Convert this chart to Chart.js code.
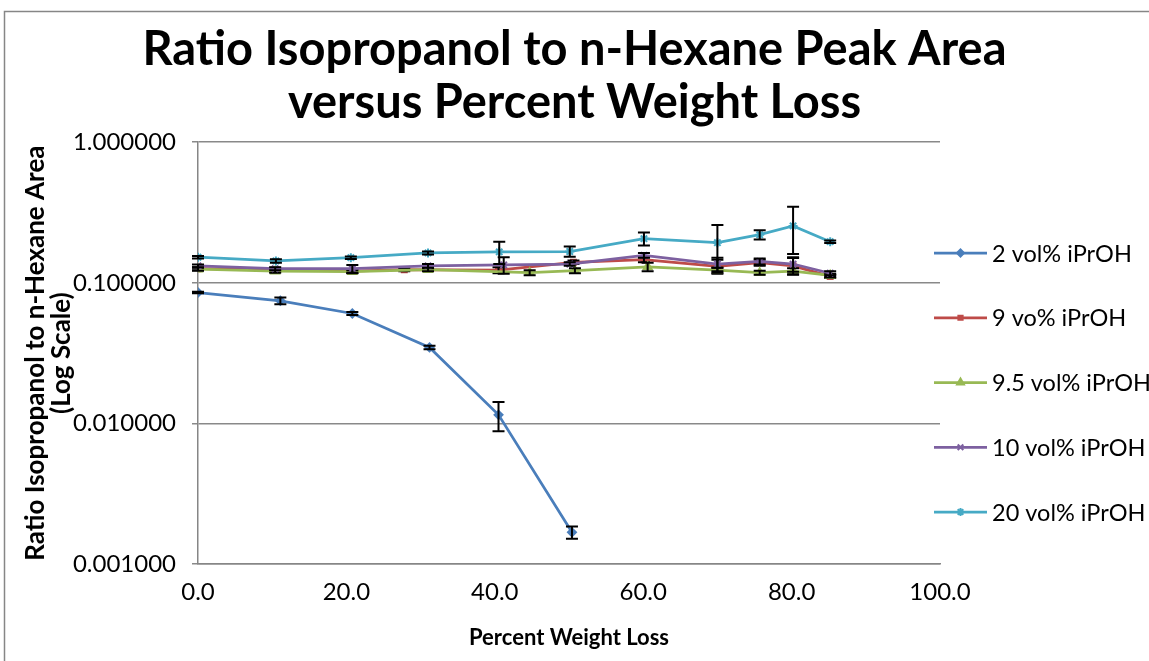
<!DOCTYPE html>
<html><head><meta charset="utf-8">
<script src="https://cdn.jsdelivr.net/npm/chart.js@4/dist/chart.umd.min.js"></script>
<style>html,body{margin:0;padding:0;background:#fff;overflow:hidden}</style>
</head><body>
<canvas id="c" width="1149" height="661"></canvas>
<script>
// ---- data ----
const seriesNames = ['2 vol% iPrOH', '9 vo% iPrOH', '9.5 vol% iPrOH', '10 vol% iPrOH', '20 vol% iPrOH'];

const x2 = [0, 11.1, 20.8, 31.2, 40.5, 50.4];
const y2 = [0.0853, 0.0745, 0.0605, 0.0347, 0.0115, 0.00168];
const e2 = [0.001, 0.004, 0.0015, 0.001, 0.0027, 0.00017];

const x9 = [0, 10.4, 20.8, 27.8, 40.5, 50.6, 60.1, 70, 75.7, 80.2, 85.2];
const y9 = [0.126, 0.124, 0.121, 0.124, 0.123, 0.140, 0.146, 0.131, 0.139, 0.132, 0.111];
const e9 = [0.003, 0.004, 0.003, 0.003, 0.006, 0.004, 0.006, 0.015, 0.007, 0.018, 0.003];

const x95 = [0, 10.4, 20.8, 31, 44.7, 50.8, 60.6, 70, 75.7, 80.2, 85.2];
const y95 = [0.125, 0.121, 0.120, 0.124, 0.118, 0.122, 0.130, 0.123, 0.118, 0.121, 0.113];
const e95 = [0.003, 0.003, 0.003, 0.003, 0.005, 0.005, 0.009, 0.005, 0.004, 0.006, 0.003];

const x10 = [0, 10.4, 20.8, 31, 41.2, 50.1, 60.1, 70, 75.7, 80.2, 85.2];
const y10 = [0.132, 0.126, 0.126, 0.132, 0.134, 0.136, 0.157, 0.136, 0.142, 0.136, 0.117];
const e10 = [0.003, 0.003, 0.008, 0.004, 0.018, 0.004, 0.006, 0.015, 0.007, 0.016, 0.004];

const x20 = [0, 10.5, 20.6, 31, 40.6, 50.1, 60.1, 70, 75.7, 80.2, 85.2];
const y20 = [0.152, 0.143, 0.151, 0.163, 0.166, 0.167, 0.206, 0.193, 0.220, 0.254, 0.196];
const e20 = [0.003, 0.004, 0.003, 0.004, 0.030, 0.014, 0.022, 0.065, 0.017, 0.094, 0.004];

const yTickValues = [1, 0.1, 0.01, 0.001];
const xTickValues = [0, 20, 40, 60, 80, 100];

const titleLines = ['Ratio Isopropanol to n-Hexane Peak Area', 'versus Percent Weight Loss'];
const yTitleLines = ['Ratio Isopropanol to n-Hexane Area', '(Log Scale)'];
const xTitle = 'Percent Weight Loss';

// ---- styling ----
const colors = ['#4A7EBB', '#BE4B48', '#98B954', '#7D60A0', '#46AAC5'];
const markers = ['rectRot', 'rect', 'triangle', 'crossRot', 'star'];
const markerRadius = [4, 3.5, 4.5, 4.5, 4.5];
const FONT = 'Lato, "Open Sans", sans-serif';

const xs = [x2, x9, x95, x10, x20];
const ys = [y2, y9, y95, y10, y20];
const es = [e2, e9, e95, e10, e20];

const datasets = seriesNames.map((name, i) => ({
  label: name,
  data: xs[i].map((xv, j) => ({x: xv, y: ys[i][j]})),
  errs: es[i],
  borderColor: colors[i],
  backgroundColor: colors[i],
  pointBackgroundColor: colors[i],
  pointBorderColor: colors[i],
  pointStyle: markers[i],
  pointRadius: markerRadius[i],
  pointBorderWidth: 2,
  borderWidth: 2.75,
  tension: 0,
  order: 5 - i
}));

const bgPlugin = {
  id: 'bg',
  beforeDraw(chart) {
    const ctx = chart.ctx;
    ctx.save();
    ctx.fillStyle = '#fff';
    ctx.fillRect(0, 0, chart.width, chart.height);
    ctx.strokeStyle = '#868686';
    ctx.lineWidth = 1.5;
    ctx.strokeRect(4.5, 11.5, 1300, 800);
    ctx.restore();
  }
};

const errPlugin = {
  id: 'errbars',
  afterDatasetDraw(chart, args) {
    const ds = chart.data.datasets[args.index];
    const xS = chart.scales.x, yS = chart.scales.y;
    const ctx = chart.ctx;
    ctx.save();
    ctx.strokeStyle = '#000';
    ctx.lineWidth = 2;
    ds.data.forEach((p, j) => {
      const e = ds.errs[j];
      const px = xS.getPixelForValue(p.x);
      const yt = yS.getPixelForValue(p.y + e);
      const yb = yS.getPixelForValue(p.y - e);
      ctx.beginPath();
      ctx.moveTo(px, yt); ctx.lineTo(px, yb);
      ctx.moveTo(px - 6, yt); ctx.lineTo(px + 6, yt);
      ctx.moveTo(px - 6, yb); ctx.lineTo(px + 6, yb);
      ctx.stroke();
    });
    ctx.restore();
  }
};

const legendPlugin = {
  id: 'xlLegend',
  afterDraw(chart) {
    const ctx = chart.ctx;
    const left = chart.chartArea.right - 6;
    const top = 253, step = 64.75;
    ctx.save();
    chart.data.datasets.forEach((ds, i) => {
      const y = top + i * step;
      ctx.strokeStyle = ds.borderColor;
      ctx.lineWidth = ds.borderWidth;
      ctx.beginPath();
      ctx.moveTo(left, y); ctx.lineTo(left + 53, y);
      ctx.stroke();
      ctx.fillStyle = ds.pointBackgroundColor;
      ctx.strokeStyle = ds.pointBorderColor;
      ctx.lineWidth = 2;
      Chart.helpers.drawPoint(ctx, {pointStyle: ds.pointStyle, radius: ds.pointRadius - 0.5, borderWidth: 2, rotation: 0}, left + 26.5, y);
      ctx.fillStyle = '#000';
      ctx.font = '23.5px ' + FONT;
      ctx.textBaseline = 'middle';
      ctx.textAlign = 'left';
      ctx.fillText(ds.label, left + 58, y + 1);
    });
    ctx.restore();
  }
};

new Chart(document.getElementById('c'), {
  type: 'line',
  data: {datasets},
  plugins: [bgPlugin, errPlugin, legendPlugin],
  options: {
    responsive: false,
    animation: false,
    layout: {padding: {top: 0, left: 0, right: 0, bottom: 0}},
    plugins: {
      legend: {display: false},
      tooltip: {enabled: false},
      title: {
        display: true,
        text: titleLines,
        color: '#000',
        font: {family: FONT, size: 47, weight: 'bold', lineHeight: 1.13},
        padding: {top: 23, bottom: 13}
      }
    },
    scales: {
      x: {
        type: 'linear',
        min: 0, max: 100,
        afterBuildTicks(s) { s.ticks = xTickValues.map(v => ({value: v})); },
        afterFit(s) { s.height = 97; },
        ticks: {
          color: '#000', padding: 14, autoSkip: false, maxRotation: 0,
          font: {family: FONT, size: 24},
          callback: v => Number(v).toFixed(1)
        },
        grid: {display: false, drawTicks: false},
        border: {display: true, color: '#868686', width: 1.5},
        title: {
          display: true, text: xTitle, color: '#000',
          font: {family: FONT, size: 22, weight: 'bold', lineHeight: 1.15},
          padding: {top: 0, bottom: 10}
        }
      },
      y: {
        type: 'logarithmic',
        min: 0.001, max: 1,
        afterBuildTicks(s) { s.ticks = yTickValues.map(v => ({value: v})); },
        afterFit(s) { s.width = 198; },
        ticks: {
          color: '#000', padding: 16, autoSkip: false,
          font: {family: FONT, size: 24},
          callback: v => Number(v).toFixed(6)
        },
        grid: {display: true, color: '#898989', lineWidth: 1.5, drawTicks: true, tickLength: 6, tickColor: '#898989'},
        border: {display: true, color: '#868686', width: 1.5},
        title: {
          display: true, text: yTitleLines, color: '#000',
          font: {family: FONT, size: 26, weight: 'bold', lineHeight: 1.0},
          padding: {top: 23, bottom: 0}
        }
      },
      legendSpace: {
        type: 'linear',
        position: 'right',
        display: true,
        afterFit(s) { s.width = 209; },
        ticks: {display: false},
        grid: {display: false, drawTicks: false},
        border: {display: false},
        title: {display: false}
      }
    }
  }
});
</script>
</body></html>
